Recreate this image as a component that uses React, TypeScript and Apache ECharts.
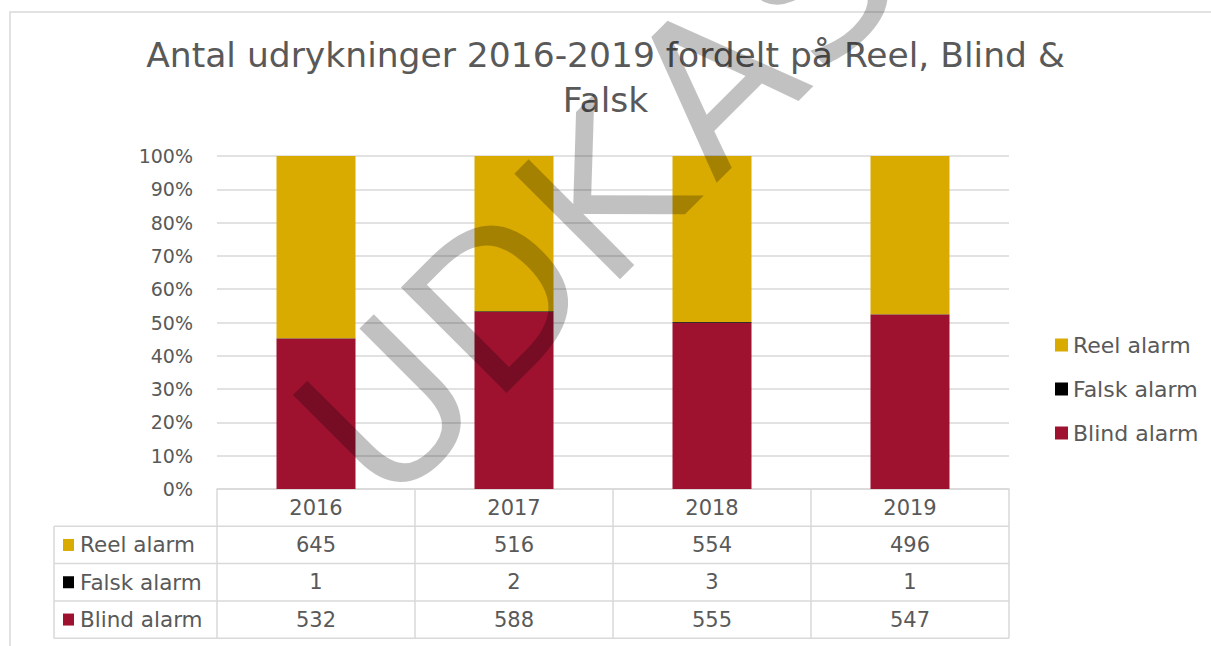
import React, { useEffect, useRef } from "react";
import * as echarts from "echarts";

// ---------- data ----------
const years = ["2016", "2017", "2018", "2019"];
const reelAlarm = [645, 516, 554, 496];
const falskAlarm = [1, 2, 3, 1];
const blindAlarm = [532, 588, 555, 547];
const seriesNames = ["Reel alarm", "Falsk alarm", "Blind alarm"];
const yTickStep = 10;
const titleText = "Antal udrykninger 2016-2019 fordelt på Reel, Blind &\nFalsk";
const watermarkLetters = ["U", "D", "K", "A", "S", "T"];

// ---------- style / layout ----------
const FONT = "DejaVu Sans";
const TEXT = "#595959";
const LINE = "#d9d9d9";
const COLORS: Record<string, string> = {
  "Reel alarm": "#D9AB00",
  "Falsk alarm": "#000000",
  "Blind alarm": "#9E1230",
};
const GRID_LEFT = 217;
const GRID_TOP = 156;
const GRID_W = 792;
const GRID_H = 333;
const TABLE_LEFT = 54;
const ROW_H = 37.3;
const WM_OFFSETS = [-15, 139, 288, 446, 588, 735];

export default function App() {
  const ref = useRef<HTMLDivElement>(null);

  useEffect(() => {
    if (!ref.current) return;
    const chart = echarts.init(ref.current, undefined, { renderer: "svg" });

    const totals = years.map((_, i) => reelAlarm[i] + falskAlarm[i] + blindAlarm[i]);
    const pct = (arr: number[]) => arr.map((v, i) => (v / totals[i]) * 100);

    const rowValues = [reelAlarm, falskAlarm, blindAlarm];
    const axisY = GRID_TOP + GRID_H;
    const colW = GRID_W / years.length;
    const tableBottom = axisY + ROW_H * 4;

    const graphics: any[] = [];
    // outer chart border
    graphics.push({
      type: "rect",
      z: -10,
      shape: { x: 10, y: 12, width: 1400, height: 800 },
      style: { fill: "none", stroke: LINE, lineWidth: 1.5 },
    });
    // title
    graphics.push({
      type: "text",
      x: 605.5,
      y: 32,
      style: {
        text: titleText,
        fontFamily: FONT,
        fontSize: 34.5,
        lineHeight: 45,
        fill: TEXT,
        textAlign: "center",
        textVerticalAlign: "top",
      },
    });
    // horizontal table lines
    for (let r = 1; r <= 4; r++) {
      const y = axisY + ROW_H * r;
      graphics.push({
        type: "line",
        shape: { x1: TABLE_LEFT, y1: y, x2: GRID_LEFT + GRID_W, y2: y },
        style: { stroke: LINE, lineWidth: 1.5 },
      });
    }
    // left border of the table
    graphics.push({
      type: "line",
      shape: { x1: TABLE_LEFT, y1: axisY + ROW_H, x2: TABLE_LEFT, y2: tableBottom },
      style: { stroke: LINE, lineWidth: 1.5 },
    });
    // row labels and values
    seriesNames.forEach((name, r) => {
      const cy = axisY + ROW_H * (r + 1.5);
      graphics.push({
        type: "rect",
        shape: { x: 63, y: cy - 6, width: 11, height: 12 },
        style: { fill: COLORS[name] },
      });
      graphics.push({
        type: "text",
        x: 80,
        y: cy,
        style: {
          text: name,
          fontFamily: FONT,
          fontSize: 21.5,
          fill: TEXT,
          textAlign: "left",
          textVerticalAlign: "middle",
        },
      });
      rowValues[r].forEach((v, c) => {
        graphics.push({
          type: "text",
          x: GRID_LEFT + colW * (c + 0.5),
          y: cy,
          style: {
            text: String(v),
            fontFamily: FONT,
            fontSize: 21,
            fill: TEXT,
            textAlign: "center",
            textVerticalAlign: "middle",
          },
        });
      });
    });
    // watermark
    graphics.push({
      type: "group",
      x: 0,
      y: 0,
      rotation: Math.PI / 4,
      z: 100,
      children: watermarkLetters.map((ch, i) => ({
        type: "text",
        z: 100,
        x: WM_OFFSETS[i],
        y: 565,
        style: {
          text: ch,
          fontFamily: FONT,
          fontSize: 205,
          fill: "rgba(0,0,0,0.245)",
          textAlign: "center",
          textVerticalAlign: "middle",
        },
      })),
    });

    const stackOrder = ["Blind alarm", "Falsk alarm", "Reel alarm"];
    const dataByName: Record<string, number[]> = {
      "Reel alarm": reelAlarm,
      "Falsk alarm": falskAlarm,
      "Blind alarm": blindAlarm,
    };

    chart.setOption({
      animation: false,
      backgroundColor: "#ffffff",
      legend: {
        data: seriesNames,
        orient: "vertical",
        left: 1050,
        top: 329,
        itemWidth: 13,
        itemHeight: 13,
        itemGap: 22,
        icon: "rect",
        textStyle: { fontFamily: FONT, fontSize: 22, color: TEXT },
      },
      grid: { left: GRID_LEFT, top: GRID_TOP, width: GRID_W, height: GRID_H },
      xAxis: {
        type: "category",
        data: years,
        axisLine: { show: true, lineStyle: { color: LINE, width: 1.5 } },
        axisTick: { show: true, length: tableBottom - axisY, lineStyle: { color: LINE, width: 1.5 } },
        axisLabel: { fontFamily: FONT, fontSize: 21, color: TEXT, margin: 8 },
      },
      yAxis: {
        type: "value",
        min: 0,
        max: 100,
        interval: yTickStep,
        axisLine: { show: false },
        axisTick: { show: false },
        axisLabel: { formatter: "{value}%", fontFamily: FONT, fontSize: 19, color: TEXT, margin: 24 },
        splitLine: { lineStyle: { color: LINE, width: 1.5 } },
      },
      series: stackOrder.map((name) => ({
        name,
        type: "bar",
        stack: "total",
        barWidth: 79,
        itemStyle: { color: COLORS[name] },
        data: pct(dataByName[name]),
      })),
      graphic: graphics,
    });

    return () => chart.dispose();
  }, []);

  return (
    <div
      ref={ref}
      style={{ position: "fixed", left: 0, top: 0, width: 1211, height: 646, background: "#fff" }}
    />
  );
}
